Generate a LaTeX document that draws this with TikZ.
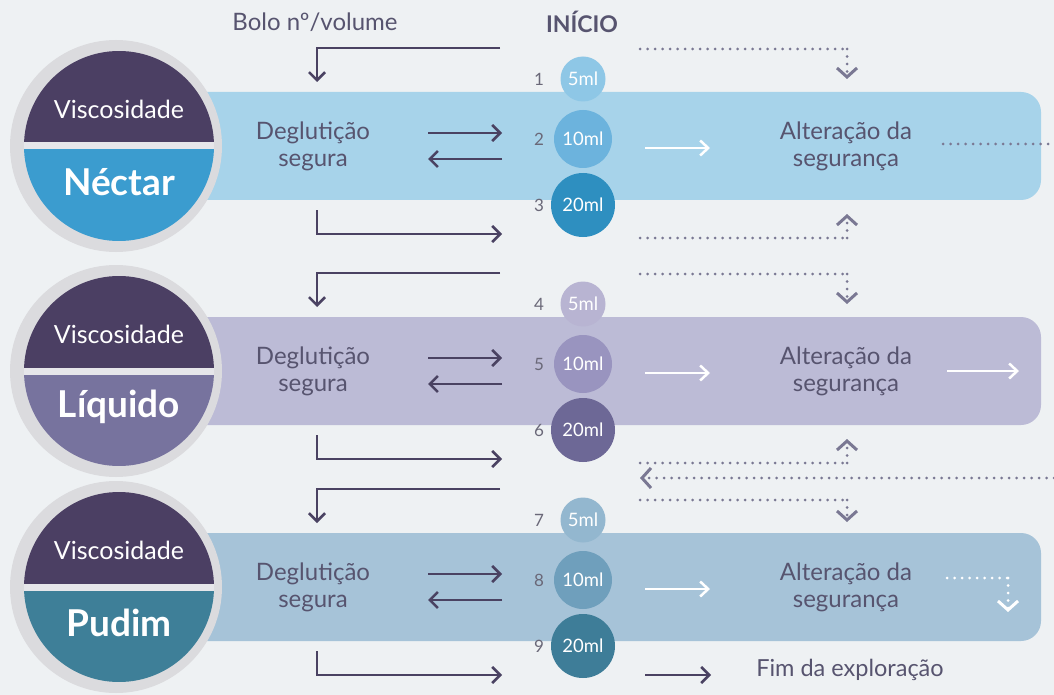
\documentclass[tikz,border=0pt]{standalone}
\usepackage{fontspec}
\setmainfont{Lato}
\usetikzlibrary{arrows.meta}

% palette
\definecolor{paper}{HTML}{EEF1F3}
\definecolor{ink}{HTML}{4A4262}
\definecolor{txt}{HTML}{57546F}
\definecolor{numc}{HTML}{6A6878}
\definecolor{dotc}{HTML}{7A7893}
\definecolor{ringc}{HTML}{DBDBDE}
\definecolor{splitc}{HTML}{E6E6EA}
\definecolor{topc}{HTML}{4B3F63}
\definecolor{main1}{HTML}{3B9CCF}
\definecolor{main2}{HTML}{77739E}
\definecolor{main3}{HTML}{3E7F98}
\definecolor{band1}{HTML}{A7D3EA}
\definecolor{band2}{HTML}{BCBBD6}
\definecolor{band3}{HTML}{A6C3D8}
\definecolor{sa1}{HTML}{8EC7E6}
\definecolor{sb1}{HTML}{6CB3DD}
\definecolor{sc1}{HTML}{2E8FC0}
\definecolor{sa2}{HTML}{B8B4D2}
\definecolor{sb2}{HTML}{9994BF}
\definecolor{sc2}{HTML}{6D6896}
\definecolor{sa3}{HTML}{93B7CF}
\definecolor{sb3}{HTML}{6F9FBC}
\definecolor{sc3}{HTML}{3E7D98}

\tikzset{
  darrow/.style={draw=ink, line width=2.6pt, -{Straight Barb[length=8pt,width=16pt]}},
  warrow/.style={draw=white, line width=2.5pt, -{Straight Barb[length=8pt,width=15pt]}},
  dotline/.style={draw=dotc, line width=3pt, line cap=round, dash pattern=on 0pt off 7.5pt},
  dotarrow/.style={dotline, -{Straight Barb[length=9pt,width=20pt]}},
  wdotarrow/.style={dotarrow, draw=white},
  band/.style={rounded corners=20pt, minimum width=891pt, minimum height=108pt, inner sep=0pt},
  ringdisc/.style={circle, fill=ringc, minimum size=212pt, inner sep=0pt},
  disc/.style={circle, minimum size=190pt, inner sep=0pt},
  vtxt/.style={text=white, font=\fontsize{25}{25}\selectfont},
  ntxt/.style={text=white, font=\bfseries\fontsize{37}{37}\selectfont},
  lbl/.style={text=txt, align=center, font=\fontsize{24}{27}\selectfont},
  numl/.style={text=numc, font=\fontsize{17}{17}\selectfont},
  vol/.style={circle, inner sep=0pt, text=white, font=\fontsize{18.5}{18.5}\selectfont}
}

\begin{document}
\begin{tikzpicture}[x=1pt,y=-1pt]
\fill[paper] (0,0) rectangle (1054,695);
\useasboundingbox (0,0) rectangle (1054,695);

% headings
\node[text=txt, font=\fontsize{24}{24}\selectfont] (bolo) at (315,22) {Bolo nº/volume};
\node[text=txt, font=\bfseries\fontsize{23}{23}\selectfont] (inicio) at (582,22) {INÍCIO};

% one row per viscosity
\foreach \row/\tp/\lbl in {1/92/Néctar, 2/317/Líquido, 3/533/Pudim}{
  \pgfmathsetmacro{\cy}{\tp+54}
  \pgfmathsetmacro{\by}{\tp+108}
  \pgfmathtruncatemacro{\na}{3*\row-2}
  \pgfmathtruncatemacro{\nb}{3*\row-1}
  \pgfmathtruncatemacro{\nc}{3*\row}

  \node[band, fill=band\row] (band\row) at (595.5,\cy) {};
  \node[ringdisc] (ring\row) at (116,\cy) {};
  \node[disc, path picture={
      \fill[topc] (path picture bounding box.north west) rectangle (path picture bounding box.east);
      \fill[main\row] (path picture bounding box.west) rectangle (path picture bounding box.south east);
      \fill[splitc] ([yshift=-3.5pt]path picture bounding box.west) rectangle ([yshift=3.5pt]path picture bounding box.east);
    }] (disc\row) at (119,\cy) {};
  \node[vtxt] (visc\row) at (119,\cy-37) {Viscosidade};
  \node[ntxt] (name\row) at (119,\cy+36) {\lbl};

  \node[lbl] (safe\row) at (313,\cy) {Deglutição\\segura};
  \node[lbl] (alt\row) at (846,\cy) {Alteração da\\segurança};

  \node[vol, fill=sa\row, minimum size=45pt] (va\row) at (583,\tp-13) {5ml};
  \node[vol, fill=sb\row, minimum size=58pt] (vb\row) at (583,\tp+47) {10ml};
  \node[vol, fill=sc\row, minimum size=64pt] (vc\row) at (583,\tp+113) {20ml};
  \node[numl] (na\row) at (539,\tp-13) {\na};
  \node[numl] (nb\row) at (539,\tp+47) {\nb};
  \node[numl] (nc\row) at (539,\tp+113) {\nc};

  % bolus entering the row
  \coordinate (inA\row) at (500,\tp-44);
  \coordinate (inB\row) at (317,\tp-44);
  \coordinate (inC\row) at (317,\tp-10);
  \draw[darrow] (inA\row) -- (inB\row) -- (inC\row);
  % safe swallow: next volume and back
  \coordinate (fwA\row) at (428,\cy-13);
  \coordinate (fwB\row) at (502,\cy-13);
  \coordinate (bkA\row) at (502,\cy+13);
  \coordinate (bkB\row) at (428,\cy+13);
  \draw[darrow] (fwA\row) -- (fwB\row);
  \draw[darrow] (bkA\row) -- (bkB\row);
  % leaving the row
  \coordinate (outA\row) at (317,\by+10);
  \coordinate (outB\row) at (317,\by+34);
  \coordinate (outC\row) at (502,\by+34);
  \draw[darrow] (outA\row) -- (outB\row) -- (outC\row);
  % unsafe swallow
  \coordinate (wA\row) at (645,\cy+2);
  \coordinate (wB\row) at (710,\cy+2);
  \draw[warrow] (wA\row) -- (wB\row);

  % dotted feeds into the safety box
  \ifnum\row<3
    \coordinate (dtA\row) at (640,\tp-43);
    \coordinate (dtB\row) at (847,\tp-43);
    \coordinate (dtC\row) at (847,\tp-13);
    \coordinate (dbA\row) at (640,\by+38);
    \coordinate (dbB\row) at (847,\by+38);
    \coordinate (dbC\row) at (847,\by+14);
    \draw[dotline] (dbA\row) -- (dbB\row);
    \draw[dotarrow] (dbB\row) -- (dbC\row);
  \else
    \coordinate (dtA\row) at (640,\tp-33);
    \coordinate (dtB\row) at (847,\tp-33);
    \coordinate (dtC\row) at (847,\tp-11);
  \fi
  \draw[dotline] (dtA\row) -- (dtB\row);
  \draw[dotarrow] (dtB\row) -- (dtC\row);
}

% exits on the right
\coordinate (exA) at (943,144);
\coordinate (exB) at (1054,144);
\draw[dotline] (exA) -- (exB);

\coordinate (lqA) at (947,371);
\coordinate (lqB) at (1019,371);
\draw[warrow] (lqA) -- (lqB);

\coordinate (retA) at (1054,478);
\coordinate (retB) at (640,478);
\draw[dotarrow] (retA) -- (retB);

\coordinate (pdA) at (947,578);
\coordinate (pdB) at (1008,578);
\coordinate (pdC) at (1008,612);
\draw[dotline, draw=white] (pdA) -- (pdB);
\draw[wdotarrow] (pdB) -- (pdC);

% end of the exploration
\node[text=txt, font=\fontsize{23.5}{23.5}\selectfont] (fim) at (850,670) {Fim da exploração};
\coordinate (fimA) at (645,675);
\coordinate (fimB) at (711,675);
\draw[darrow] (fimA) -- (fimB);
\end{tikzpicture}
\end{document}
